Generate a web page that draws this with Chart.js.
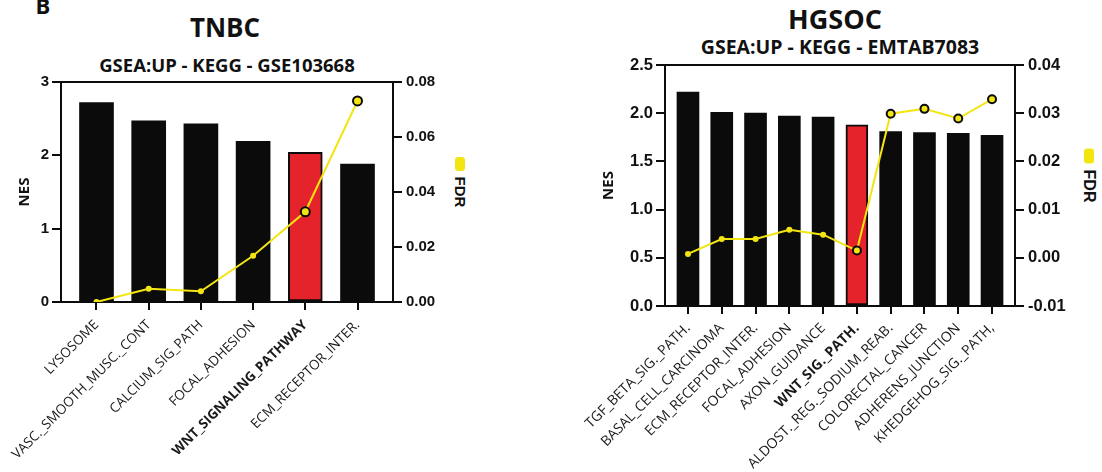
<!DOCTYPE html>
<html>
<head>
<meta charset="utf-8">
<script src="https://cdn.jsdelivr.net/npm/chart.js@4.4.1/dist/chart.umd.min.js"></script>
<style>
  body { margin: 0; width: 1102px; height: 472px; background: #fff; position: relative; overflow: hidden; }
  canvas { position: absolute; top: 0; }
  .txt { position: absolute; font-family: 'Open Sans', sans-serif; font-weight: bold; color: #111; white-space: nowrap; line-height: 1; transform: translate(-50%, -50%); }
  .fdr { position: absolute; writing-mode: vertical-rl; font-family: 'Liberation Sans', Arial, sans-serif; font-weight: bold; color: #111; line-height: 1; transform: translate(-50%, -50%); }
  .mark { position: absolute; background: #f3e512; border-radius: 3px; transform: translate(-50%, -50%); }
</style>
</head>
<body>
<div class="txt" style="left:43px; top:5px; font-size:22px;">B</div>
<div class="txt" style="left:225px; top:27px; font-size:26px;">TNBC</div>
<div class="txt" style="left:227px; top:65px; font-size:18.5px;">GSEA:UP - KEGG - GSE103668</div>
<div class="txt" style="left:835px; top:18px; font-size:27px;">HGSOC</div>
<div class="txt" style="left:840px; top:47px; font-size:19.5px;">GSEA:UP - KEGG - EMTAB7083</div>
<div class="mark" style="left:460px; top:164px; width:10px; height:14px;"></div>
<div class="fdr" style="left:460px; top:192px; font-size:15px;">FDR</div>
<div class="mark" style="left:1089px; top:156px; width:10px; height:15px;"></div>
<div class="fdr" style="left:1089px; top:186px; font-size:16px;">FDR</div>

<canvas id="tnbc" width="480" height="472" style="left:0px"></canvas>
<canvas id="hgsoc" width="542" height="472" style="left:560px"></canvas>

<script>
// TNBC - GSE103668
const tnbcPathways = ['LYSOSOME', 'VASC._SMOOTH_MUSC._CONT', 'CALCIUM_SIG_PATH', 'FOCAL_ADHESION', 'WNT_SIGNALING_PATHWAY', 'ECM_RECEPTOR_INTER.'];
const tnbcNES = [2.72, 2.47, 2.43, 2.19, 2.04, 1.88];
const tnbcFDR = [0.0, 0.0048, 0.0039, 0.0168, 0.0328, 0.0731];
const tnbcHighlight = 4; // WNT pathway
const tnbcNesRange = [0, 3, 1];
const tnbcFdrRange = [0, 0.08, 0.02];

// HGSOC - EMTAB7083
const hgsocPathways = ['TGF_BETA_SIG._PATH.', 'BASAL_CELL_CARCINOMA', 'ECM_RECEPTOR_INTER.', 'FOCAL_ADHESION', 'AXON_GUIDANCE', 'WNT_SIG._PATH.', 'ALDOST._REG._SODIUM_REAB.', 'COLORECTAL_CANCER', 'ADHERENS_JUNCTION', 'KHEDGEHOG_SIG._PATH,'];
const hgsocNES = [2.22, 2.01, 2.00, 1.97, 1.96, 1.88, 1.81, 1.80, 1.79, 1.77];
const hgsocFDR = [0.0008, 0.0039, 0.0039, 0.0058, 0.0048, 0.0015, 0.0299, 0.0309, 0.0289, 0.0329];
const hgsocHighlight = 5; // WNT pathway
const hgsocNesRange = [0, 2.5, 0.5];
const hgsocFdrRange = [-0.01, 0.04, 0.01];

const BLACK = '#0b0b0b';
const RED = '#e5232a';
const YELLOW = '#f3e512';
const tickFamily = "'Liberation Sans', Arial, sans-serif";

// top edge of the frame (the other three sides are axis borders)
const framePlugin = {
  id: 'frame',
  afterDraw(chart) {
    const { ctx, chartArea } = chart;
    ctx.save();
    ctx.strokeStyle = BLACK;
    ctx.lineWidth = 2;
    ctx.beginPath();
    ctx.moveTo(chartArea.left - 1, chartArea.top);
    ctx.lineTo(chartArea.right + 1, chartArea.top);
    ctx.stroke();
    ctx.restore();
  }
};

function drawPanel(id, p) {
  const n = p.labels.length;
  new Chart(document.getElementById(id), {
    type: 'bar',
    data: {
      datasets: [
        {
          type: 'line',
          label: 'FDR',
          yAxisID: 'y1',
          order: 1,
          data: p.fdr.map((v, i) => ({ x: i, y: v })),
          borderColor: YELLOW,
          borderWidth: 2,
          tension: 0,
          pointBackgroundColor: YELLOW,
          pointBorderColor: BLACK,
          pointRadius: p.fdr.map((_, i) => (i >= p.highlight ? p.bigR : 3)),
          pointBorderWidth: p.fdr.map((_, i) => (i >= p.highlight ? 2 : 0))
        },
        {
          type: 'bar',
          label: 'NES',
          yAxisID: 'y',
          order: 2,
          data: p.nes.map((v, i) => ({ x: i, y: v })),
          backgroundColor: p.nes.map((_, i) => (i === p.highlight ? RED : BLACK)),
          borderColor: BLACK,
          borderWidth: p.nes.map((_, i) => (i === p.highlight ? 2 : 0)),
          borderSkipped: false,
          barThickness: p.barW
        }
      ]
    },
    options: {
      responsive: false,
      animation: false,
      layout: { padding: { top: p.top, left: 0, right: 0, bottom: 0 } },
      plugins: { legend: { display: false }, tooltip: { enabled: false } },
      scales: {
        x: {
          type: 'linear',
          min: -0.68,
          max: n - 1 + 0.68,
          offset: false,
          afterBuildTicks: (axis) => { axis.ticks = p.labels.map((_, i) => ({ value: i })); },
          afterFit: (s) => { s.height = p.xH; },
          grid: { drawOnChartArea: false, offset: false, tickLength: 8, color: BLACK, lineWidth: 2 },
          border: { color: BLACK, width: 2 },
          ticks: {
            autoSkip: false,
            minRotation: 45,
            maxRotation: 45,
            padding: p.xPad,
            color: '#1a1a1a',
            callback: (v) => p.labels[v],
            font: (c) => ({ family: "'Open Sans', sans-serif", size: p.xFont, weight: c.index === p.highlight ? 'bold' : 'normal' })
          }
        },
        y: {
          position: 'left',
          min: p.nesRange[0],
          max: p.nesRange[1],
          afterFit: (s) => { s.width = p.yW; },
          grid: { drawOnChartArea: false, tickLength: 9, color: BLACK, lineWidth: 2 },
          border: { color: BLACK, width: 2 },
          ticks: {
            stepSize: p.nesRange[2],
            padding: 3,
            color: '#111',
            font: { family: tickFamily, size: p.tickFont, weight: 'bold' },
            callback: (v) => v.toFixed(p.nesDigits)
          },
          title: {
            display: true,
            text: 'NES',
            color: '#111',
            font: { family: "'Open Sans', sans-serif", size: 15, weight: 'bold' },
            padding: { top: p.nesPad, bottom: 0 }
          }
        },
        y1: {
          position: 'right',
          min: p.fdrRange[0],
          max: p.fdrRange[1],
          afterFit: (s) => { s.width = p.y1W; },
          grid: { drawOnChartArea: false, tickLength: 9, color: BLACK, lineWidth: 2 },
          border: { color: BLACK, width: 2 },
          ticks: {
            stepSize: p.fdrRange[2],
            padding: 4,
            color: '#111',
            font: { family: tickFamily, size: p.tickFont, weight: 'bold' },
            callback: (v) => v.toFixed(2)
          }
        }
      }
    },
    plugins: [framePlugin]
  });
}

drawPanel('tnbc', {
  labels: tnbcPathways, nes: tnbcNES, fdr: tnbcFDR, highlight: tnbcHighlight,
  nesRange: tnbcNesRange, fdrRange: tnbcFdrRange, nesDigits: 0,
  top: 82, xH: 170, yW: 61, y1W: 87, nesPad: 16,
  barW: 34, bigR: 4.5, xFont: 13.5, xPad: 7, tickFont: 15
});

drawPanel('hgsoc', {
  labels: hgsocPathways, nes: hgsocNES, fdr: hgsocFDR, highlight: hgsocHighlight,
  nesRange: hgsocNesRange, fdrRange: hgsocFdrRange, nesDigits: 1,
  top: 65, xH: 166, yW: 105, y1W: 87, nesPad: 40,
  barW: 22, bigR: 4, xFont: 14, xPad: 6, tickFont: 16.5
});
</script>
</body>
</html>
